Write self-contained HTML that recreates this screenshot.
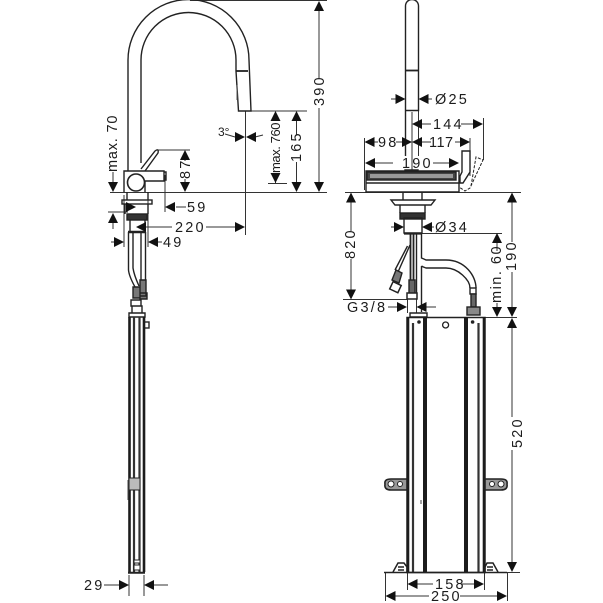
<!DOCTYPE html>
<html><head><meta charset="utf-8"><style>
html,body{margin:0;padding:0;background:#fff;width:603px;height:603px;overflow:hidden}
svg{display:block;filter:blur(.3px)}
text{font-family:"Liberation Sans",sans-serif;font-size:14.5px;fill:#1c1c1c;letter-spacing:2.2px}
</style></head><body>
<svg width="603" height="603" viewBox="0 0 603 603" fill="none" stroke="#222" stroke-width="1">
<!-- dimension thin lines -->
<g stroke="#333" stroke-width="1">
<path d="M190 .5H327M110 192.500H327M245 111H307M319 9V78M319 108V184M296.500 120V135M296.500 162V183M275.500 175V183M268 183.500H287M245.500 111V235M225 134L235 137M255 137L263 135M158 150H190M185 159V161M185 179V182M113 172V184M108 212H128M113 222V229M165 175V212M176 207H186M146 227H172M206 227H236M124 195V247M148 195V247M111 242H115M157 242H162"/>
<path d="M104 585H120M153 585H168M129 575V596M144 575V596"/>
<path d="M391 99H396M427 99H432M405.500 111V156M412 112V172M418.500 111V156M421 124H431M461 124H474M483.500 118V160M364.500 138V190M470 138V176M373 142H378M396 142H403M421 142H431M455 142H461M374 163H393M433 163H450"/>
<path d="M345 192.500H521M351 201V231M351 259V291M343 299.500H408M388 307H398M425 307H436M407.500 299V313M416.500 299V313M391 227H395M431 227H434M422 233.500H502M497 242V251M497 303V309M485 317.500H517M512 201V242M512 272V309M512 327V417M512 450V563M495 572.500H520"/>
<path d="M416 584H433M461 584H475M394 596H429M460 596H498M385.500 573V601M507.500 573V601M407.500 573V590M484.500 573V590"/>
</g>
<!-- left faucet -->
<g stroke-width="1.400">
<path d="M128 171V60A60.500 60.500 0 0 1 249 60L251 111H238.500L236 71V60A47.500 47.500 0 0 0 141 60V163"/>
<path d="M236 71H248" stroke-width="1.800"/>
<path d="M237 85V100" stroke="#555" stroke-width="1"/>
<path d="M145 192V181H164V171H124V192"/>
<circle cx="136" cy="182.500" r="8.500" stroke-width="1.600"/>
<path d="M141 169L155 151Q159 148 158 153L145 171M164 172H166V180H164"/>
<rect x="122" y="200" width="30" height="4"/>
<path d="M127 192V200M148 192V200M125 204V214M148 204V214"/>
<rect x="127" y="214" width="20" height="6" fill="#333"/>
<path d="M130 220V232M145 220V232"/>
<path d="M128 232H145" stroke-width="2.600"/>
<path d="M128.500 232V270Q129 276 135 287M133 232V268Q134 275 139 286M141 232V280M145.500 232V280"/>
<path d="M140 280H146V296H140Z M133 287H140V298H133Z M140 293H147V299H140Z" fill="#777"/>
<path d="M131 300H141V306H131Z M132 306H142V313H132Z M129 313H145V317H129Z"/>
<rect x="144" y="322" width="5" height="6"/>
</g>
<g>
<path d="M129.500 317V572M144 317V572" stroke="#1c1c1c" stroke-width="2.600"/>
<path d="M134 317V572M139.500 317V572" stroke="#333" stroke-width="2.200"/>
<path d="M128 572.800H145" stroke-width="2"/>
<rect x="129" y="478" width="11" height="12" fill="#bbb" stroke="#222"/>
<path d="M128 480V500" stroke="#444"/>
<rect x="134" y="560" width="6" height="3" fill="#fff"/><rect x="134" y="565" width="6" height="5" fill="#fff"/>
</g>
<!-- right faucet -->
<g stroke-width="1.400">
<path d="M405.500 156V6A6.500 6.500 0 0 1 418.500 6V110.500H405.500"/>
<path d="M406 70.500H418" stroke-width="1.800"/>
<path d="M366 171H459V192H366Z"/>
<rect x="367" y="172" width="89" height="8" fill="#444"/>
<rect x="370" y="174" width="83" height="4" fill="#999" stroke="none"/>
<path d="M405 171V170H418V171M366 183H459"/>
<path d="M462 151H470V172L463 183H460V176L462 172Z"/>
<path d="M471 186L476 157L483 160L470 188L465 191L459 187" stroke-dasharray="3 1.500" stroke-width="1"/>
<path d="M403 192V200M422 192V200"/>
<path d="M391 200H435L431 205H395Z"/>
<path d="M400 205V213M425 205V213"/>
<rect x="400" y="213" width="25" height="6" fill="#333"/>
<rect x="404" y="218" width="18" height="15"/>
<path d="M404 233.500H422" stroke-width="2.200"/>
<path d="M410.500 234V281M413.500 234V281" stroke-width="1.800"/>
<path d="M416.500 234V298M421.500 234V258Q424 259 426 260Q436 260 446 260C465 260 476 276 476 288M421.500 266Q423 267 426 268H446C458 268 470 280 470 288M421.500 266V312"/>
<path d="M410 245L398 272M407.500 246L395 270" stroke-width="1.400"/>
<path d="M396 270L402 273L399 283L392 280Z" fill="#777"/>
<rect x="391" y="283" width="9" height="8" transform="rotate(25 395 287)" fill="#fff" stroke-width="1.500"/>
<rect x="409" y="280" width="6" height="14" fill="#666"/>
<rect x="407" y="293" width="10" height="6" fill="#fff" stroke-width="1.500"/>
<rect x="470" y="288" width="6" height="6" fill="#fff"/>
<rect x="471" y="294" width="5" height="13" fill="#666"/>
<rect x="467" y="307" width="13" height="8" fill="#888"/>
<path d="M410 313H427V317H410Z"/>
<path d="M407 317.500H485V572.500H407Z" stroke-width="1.500"/>
</g>
<g>
<path d="M408 317V572M484 317V572" stroke="#1c1c1c" stroke-width="2.600"/>
<path d="M413 323V572M478.500 323V572" stroke="#333" stroke-width="2.200"/>
<path d="M425 317V572M466 317V572" stroke="#1c1c1c" stroke-width="4"/>
<path d="M384 572.500H507" stroke-width="1.500"/>
<circle cx="419" cy="322" r="1.800" fill="#222" stroke="none"/>
<circle cx="472.600" cy="322" r="1.800" fill="#222" stroke="none"/>
<circle cx="445.600" cy="325" r="3" stroke-width="1.300"/>
<path d="M421 500V504" stroke="#444"/>
<!-- clamps -->
<path d="M407 479H391Q384 479 385 484Q384 490 391 490H407Z" stroke-width="1.600" fill="#999"/>
<path d="M485 479H501Q508 479 507 484Q508 490 501 490H485Z" stroke-width="1.600" fill="#999"/>
<circle cx="391" cy="484" r="3" fill="#fff"/><circle cx="400" cy="484" r="2.500" fill="#fff"/>
<circle cx="501" cy="484" r="3" fill="#fff"/><circle cx="492" cy="484" r="2.500" fill="#fff"/>
<!-- feet -->
<path d="M393 572L398 563H404L407 567V572M398 567H404M398 570H404M498 572L493 563H487L485 567V572M487 567H493M487 570H493" stroke-width="1.500"/>
</g>
<!-- arrowheads -->
<path fill="#111" stroke="none" d="
M319 1l-5 10h10zM319 192l-5 -10h10z
M296.500 111l-5 10h10zM296.500 192l-5 -10h10z
M275.500 111l-5 10h10zM275.500 183l-5 -10h10z
M245 137l-10 -5v10zM246 137l10 -5v10z
M185 150l-5 10h10zM185 192l-5 -10h10z
M113 192l-5 -10h10zM113 213l-5 10h10z
M165 207l10 -5v10zM136 207l-10 -5v10z
M136 227l10 -5v10zM245 227l-10 -5v10z
M124 242l-10 -5v10zM148 242l10 -5v10z
M129 585l-10 -5v10zM144 585l10 -5v10z
M405.500 99l-10 -5v10zM418.500 99l10 -5v10z
M412 124l10 -5v10zM483 124l-10 -5v10z
M364.500 142l10 -5v10zM412 142l-10 -5v10zM412 142l10 -5v10zM470 142l-10 -5v10z
M365 163l10 -5v10zM459 163l-10 -5v10z
M351 192.500l-5 10h10zM351 299.500l-5 -10h10z
M407 307l-10 -5v10zM416.500 307l10 -5v10z
M404 227l-10 -5v10zM422 227l10 -5v10z
M497 233l-5 10h10zM497 317l-5 -10h10z
M512 192.500l-5 10h10zM512 317l-5 -10h10zM512 318l-5 10h10zM512 572l-5 -10h10z
M407.500 584l10 -5v10zM484 584l-10 -5v10z
M385.500 596l10 -5v10zM507 596l-10 -5v10z"/>
<!-- labels -->
<g stroke="none">
<text transform="translate(324 106) rotate(-90)">390</text>
<text transform="translate(301 162) rotate(-90)">165</text>
<text transform="translate(280 173) rotate(-90)" textLength="51" style="letter-spacing:.5px;font-size:13px">max. 760</text>
<text transform="translate(117 172) rotate(-90)" style="letter-spacing:.8px">max. 70</text>
<text transform="translate(190 179) rotate(-90)">87</text>
<text transform="translate(355 259) rotate(-90)">820</text>
<text transform="translate(516 271) rotate(-90)">190</text>
<text transform="translate(501 303) rotate(-90)" style="letter-spacing:1.500px">min. 60</text>
<text transform="translate(522 448) rotate(-90)">520</text>
<text x="187" y="212">59</text>
<text x="175" y="232">220</text>
<text x="163" y="247">49</text>
<text x="84" y="590">29</text>
<text x="218" y="136" style="font-size:12px;letter-spacing:0">3°</text>
<text x="435" y="104">Ø25</text>
<text x="433" y="129">144</text>
<text x="378" y="147">98</text>
<text x="429" y="147" style="letter-spacing:.5px">117</text>
<text x="402" y="168">190</text>
<text x="435" y="232">Ø34</text>
<text x="347" y="312">G3/8</text>
<text x="435" y="589">158</text>
<text x="431" y="601">250</text>
</g>
</svg>
</body></html>
